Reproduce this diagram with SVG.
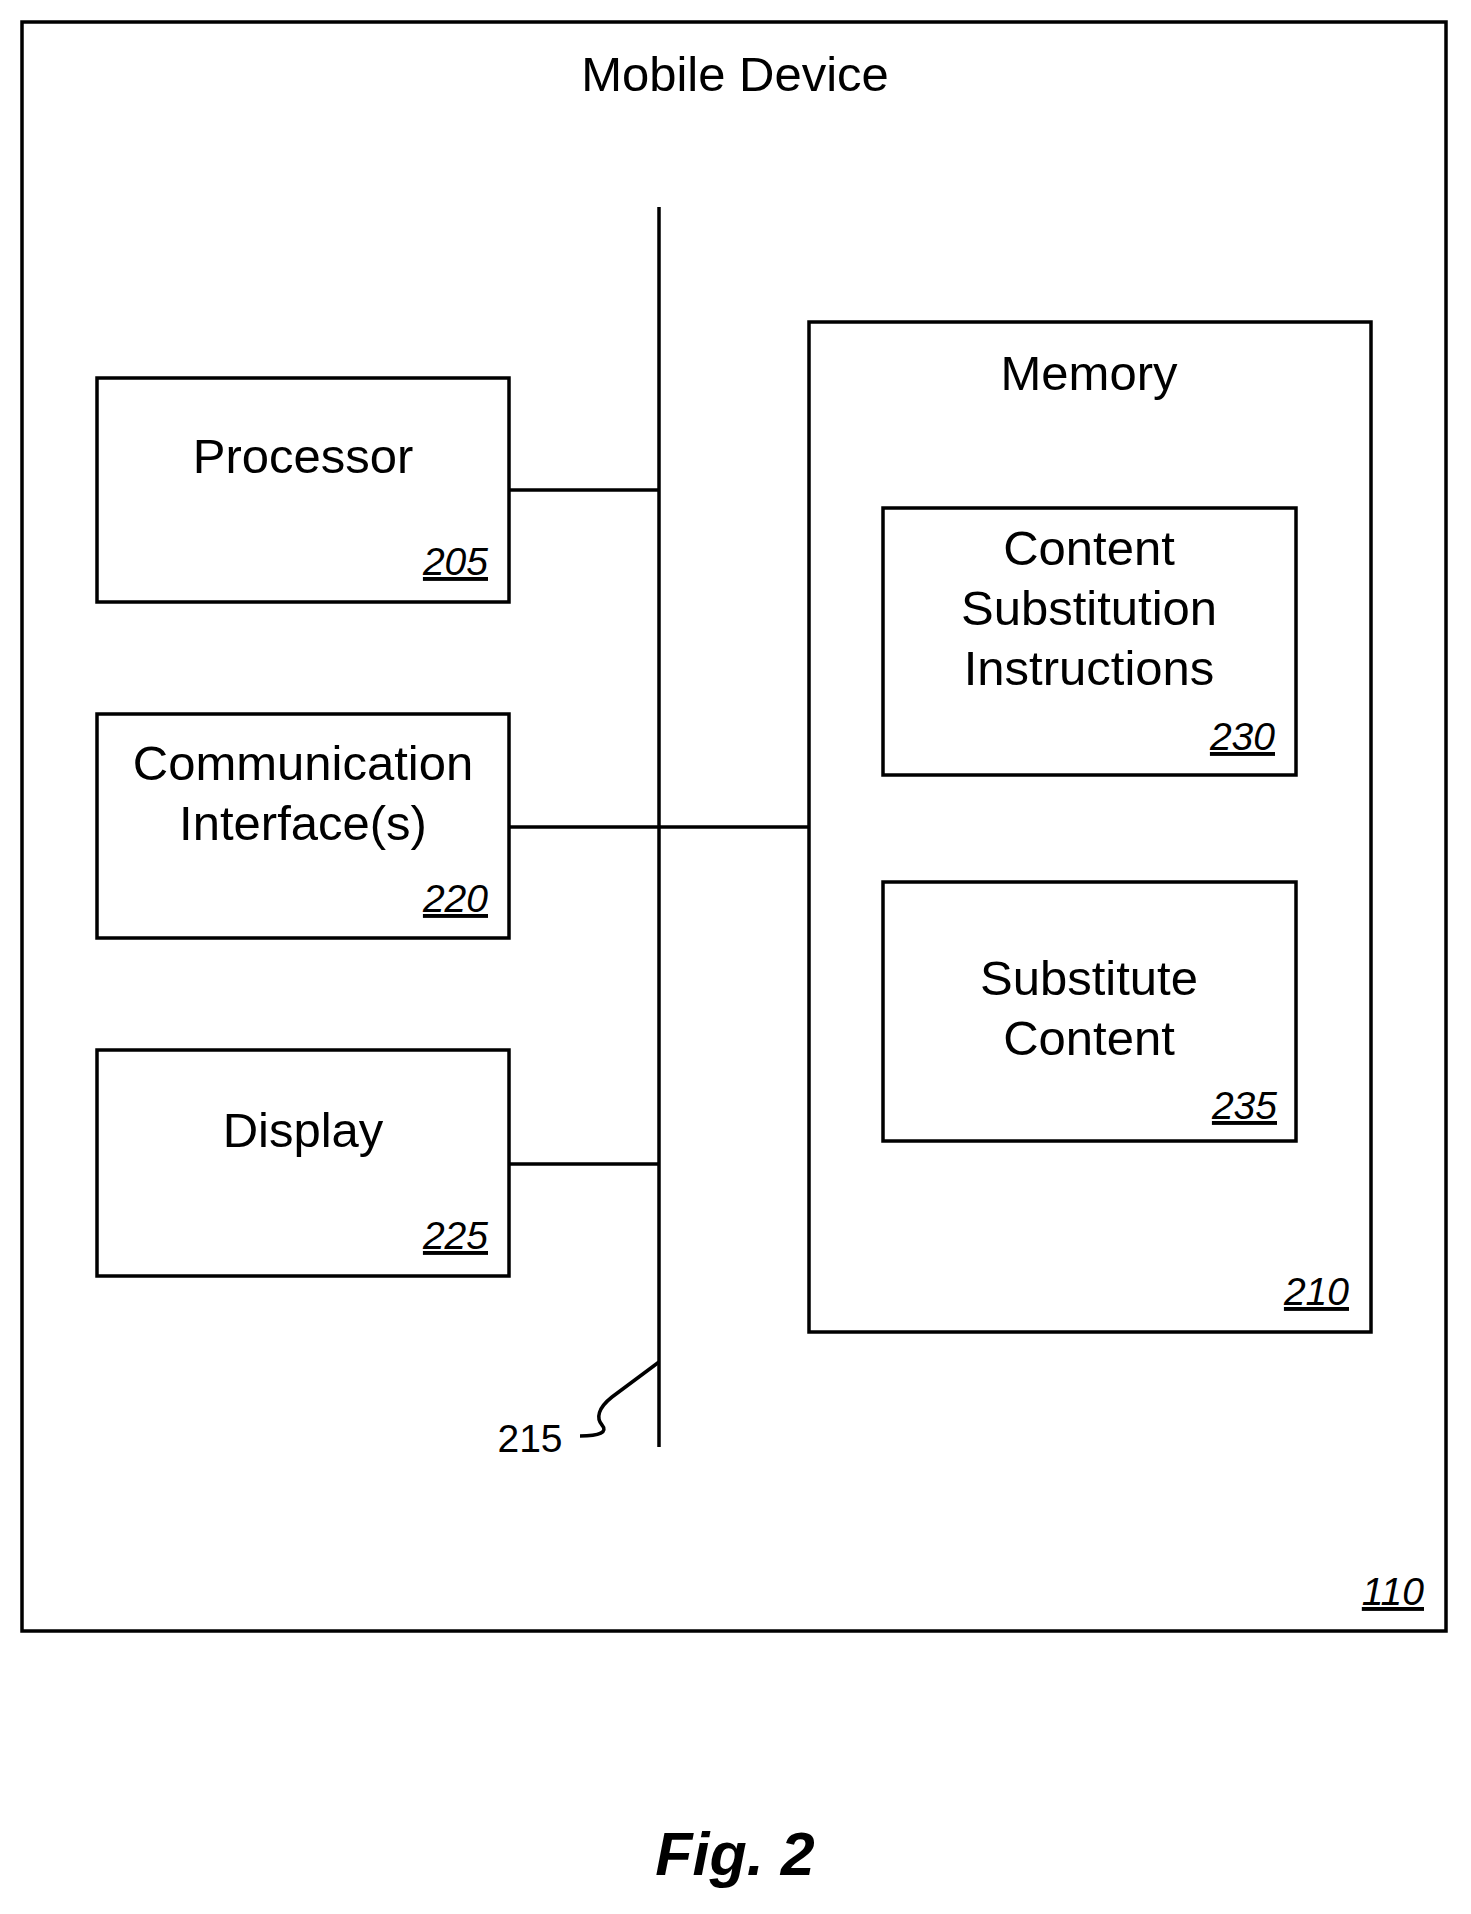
<svg xmlns="http://www.w3.org/2000/svg" width="1471" height="1914" viewBox="0 0 1471 1914">
<style>
rect{fill:none;stroke:#000;stroke-width:3.5}
.t{font-family:"Liberation Sans",Arial,sans-serif;font-size:49px;text-anchor:middle}
.n{font-family:"Liberation Sans",Arial,sans-serif;font-size:39px;font-style:italic;text-decoration:underline;text-anchor:end}
line,path{stroke:#000;stroke-width:3.5;fill:none}
</style>
<rect width="1471" height="1914" style="fill:#fff;stroke:none"/>
<g id="mobile"><rect x="22" y="22" width="1424" height="1609"/>
<text class="t" x="735" y="91">Mobile Device</text><text class="n" x="1424" y="1605">110</text></g>
<g id="connectors">
<line x1="659" y1="207" x2="659" y2="1447"/>
<line x1="509" y1="490" x2="659" y2="490"/>
<line x1="509" y1="827" x2="809" y2="827"/>
<line x1="509" y1="1164" x2="659" y2="1164"/>
<path d="M659,1362 L612,1397 C598,1408 596,1418 602,1425 C608,1432 600,1436 580,1436"/>
<text class="t" x="530" y="1452" style="font-size:39px">215</text>
</g>
<g id="processor"><rect x="97" y="378" width="412" height="224"/>
<text class="t" x="303" y="473">Processor</text><text class="n" x="488" y="575">205</text></g>
<g id="comm"><rect x="97" y="714" width="412" height="224"/>
<text class="t" x="303" y="780">Communication</text><text class="t" x="303" y="840">Interface(s)</text><text class="n" x="488" y="912">220</text></g>
<g id="display"><rect x="97" y="1050" width="412" height="226"/>
<text class="t" x="303" y="1147">Display</text><text class="n" x="488" y="1249">225</text></g>
<g id="memory"><rect x="809" y="322" width="562" height="1010"/>
<text class="t" x="1089" y="390">Memory</text><text class="n" x="1349" y="1305">210</text></g>
<g id="csi"><rect x="883" y="508" width="413" height="267"/>
<text class="t" x="1089" y="565">Content</text><text class="t" x="1089" y="625">Substitution</text><text class="t" x="1089" y="685">Instructions</text><text class="n" x="1275" y="750">230</text></g>
<g id="sc"><rect x="883" y="882" width="413" height="259"/>
<text class="t" x="1089" y="995">Substitute</text><text class="t" x="1089" y="1055">Content</text><text class="n" x="1277" y="1119">235</text></g>
<text x="735" y="1875" style="font-family:'Liberation Sans',Arial,sans-serif;font-size:61px;font-weight:bold;font-style:italic;text-anchor:middle">Fig. 2</text>
</svg>
